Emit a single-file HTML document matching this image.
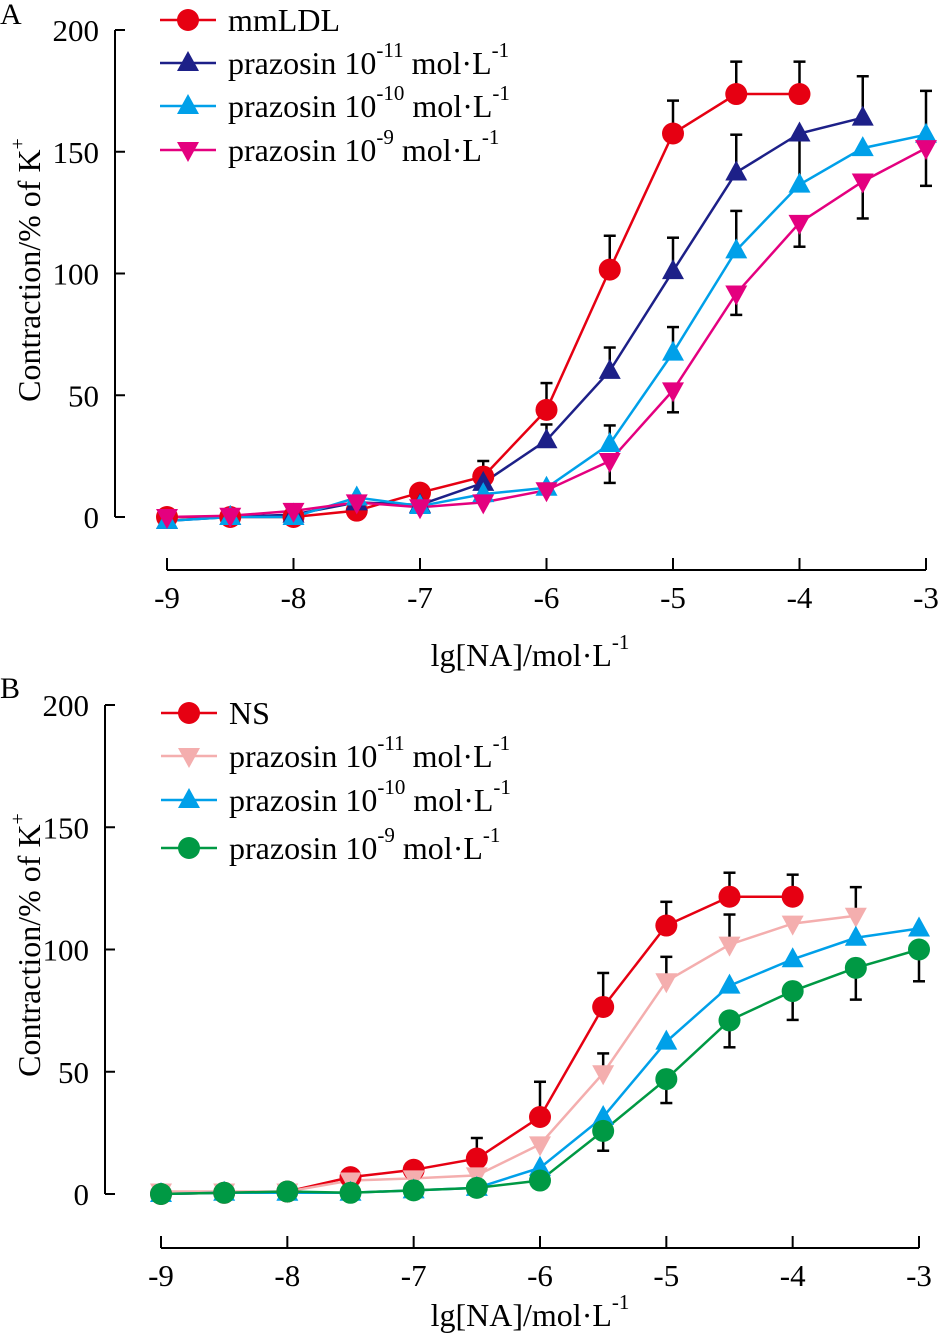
<!DOCTYPE html>
<html><head><meta charset="utf-8">
<style>
body{margin:0;background:#fff;}
svg{display:block;font-family:"Liberation Serif",serif;}
</style></head>
<body>
<svg id="chart" width="938" height="1334" viewBox="0 0 938 1334" xmlns="http://www.w3.org/2000/svg"></svg>
<script>
const xCats = [-9,-8.5,-8,-7.5,-7,-6.5,-6,-5.5,-5,-4.5,-4,-3.5,-3];
const xTicks = [-9,-8,-7,-6,-5,-4,-3];
const yTicks = [0,50,100,150,200];
// Panel A series
const aMmLDL = [0,0,0,2.6,10,16.6,44,101.6,157.5,173.7,173.7,null,null];
const aP11 = [-1.6,0,1,6,5,14,31.5,60,101,141.5,157.5,164,null];
const aP10 = [-1.6,0,0,8,4.5,9.4,12,30,67.5,109.5,136.5,151.5,157];
const aP9 = [0,0.5,2.5,6,4,6,11,23,52,91.8,120.8,137.8,151.5];
// Panel A error bars: [x, value, bound]
const aErrMmLDL = [[-6.5,16.6,23],[-6,44,55],[-5.5,101.6,115.5],[-5,157.5,171],[-4.5,173.7,187],[-4,173.7,187]];
const aErrP11 = [[-6,31.5,38],[-5.5,60,69.6],[-5,101,114.7],[-4.5,141.5,157],[-4,157.5,135],[-3.5,164,181]];
const aErrP10 = [[-5.5,30,37.6],[-5,67.5,78],[-4.5,109.5,125.7],[-3,157,175]];
const aErrP9 = [[-5.5,23,14],[-5,52,43],[-4.5,91.8,83],[-4,120.8,111],[-3.5,137.8,122.6],[-3,151.5,136]];
// Panel B series
const bNS = [0,0.5,1,6.9,9.9,14.5,31.5,76.5,109.8,121.6,121.6,null,null];
const bP11 = [1,1,1,5.5,6.4,7.6,20.3,49.4,87,102,110.6,113.8,null];
const bP10 = [0,0.5,0.5,0.5,1.5,2.5,10.7,31.5,62.3,85.2,96,104.8,108.6];
const bP9 = [0,0.5,1,0.5,1.5,2.5,5.5,25.8,47,71,83,92.5,100];
const bErrNS = [[-6.5,14.5,22.9],[-6,31.5,45.9],[-5.5,76.5,90.4],[-5,109.8,119.5],[-4.5,121.6,131.4],[-4,121.6,130.6]];
const bErrP11 = [[-5.5,49.4,57.5],[-5,87,97],[-4.5,102,114.3],[-3.5,113.8,125.5]];
const bErrP9 = [[-5.5,25.8,17.7],[-5,47,37.2],[-4.5,71,60],[-4,83,71.2],[-3.5,92.5,79.5],[-3,100,87]];

const NS='http://www.w3.org/2000/svg';
const svg=document.getElementById('chart');
function mk(tag,attrs,parent){const e=document.createElementNS(NS,tag);for(const k in attrs)e.setAttribute(k,attrs[k]);(parent||svg).appendChild(e);return e;}

function panel(cfg){
  const g=mk('g',{});
  
  
  const X=v=>cfg.x0+(v-(-9))*(cfg.x1-cfg.x0)/6;
  const Y=v=>cfg.y0-v*(cfg.y0-cfg.y200)/200;
  const ya=mk('line',{x1:cfg.ax,y1:Y(200),x2:cfg.ax,y2:Y(0),stroke:'#000','stroke-width':2},g);
  
  
  yTicks.forEach(t=>{
    mk('line',{x1:cfg.ax,y1:Y(t),x2:cfg.ax+10,y2:Y(t),stroke:'#000','stroke-width':2},g);
    const tx=mk('text',{x:cfg.ax-16,y:Y(t)+11,'text-anchor':'end','font-size':31},g);
    tx.textContent=t;
    
    
  });
  const xa=mk('line',{x1:X(-9),y1:cfg.xa,x2:X(-3),y2:cfg.xa,stroke:'#000','stroke-width':2},g);
  
  
  xTicks.forEach(t=>{
    mk('line',{x1:X(t),y1:cfg.xa,x2:X(t),y2:cfg.xa-12,stroke:'#000','stroke-width':2},g);
    const tx=mk('text',{x:X(t),y:cfg.xa+38,'text-anchor':'middle','font-size':31},g);
    tx.textContent=t;
    
    
  });
  cfg.series.forEach(s=>{
    let d='';let first=true;
    s.data.forEach((v,i)=>{if(v===null)return;d+=(first?'M':'L')+X(xCats[i])+','+Y(v);first=false;});
    const p=mk('path',{d:d,fill:'none',stroke:s.color,'stroke-width':2.5},g);
    
    
  });
  cfg.errs.forEach(eb=>{
    eb.forEach(e=>{
      const x=X(e[0]);
      const l=mk('line',{x1:x,y1:Y(e[1]),x2:x,y2:Y(e[2]),stroke:'#000','stroke-width':2.5},g);
      
      
      mk('line',{x1:x-6,y1:Y(e[2]),x2:x+6,y2:Y(e[2]),stroke:'#000','stroke-width':2.5},g);
    });
  });
  cfg.series.forEach(s=>{
    s.data.forEach((v,i)=>{if(v===null)return;
      const m=marker(g,s.shape,X(xCats[i]),Y(v),s.color);
      
      
    });
  });
  cfg.series.forEach((s,i)=>{
    const ly=cfg.legY[i];
    const lg=mk('g',{},g);
    
    
    mk('line',{x1:cfg.legX-28,y1:ly,x2:cfg.legX+28,y2:ly,stroke:s.color,'stroke-width':2.5},lg);
    marker(lg,s.shape,cfg.legX,ly,s.color);
    const t=mk('text',{x:cfg.legX+40,y:ly+11,'font-size':32},lg);
    if(s.exp===null){t.textContent=s.label;}
    else{
      t.appendChild(document.createTextNode('prazosin 10'));
      const sp=mk('tspan',{dy:-17,'font-size':21},t);sp.textContent=s.exp;
      const sp2=mk('tspan',{dy:17},t);sp2.textContent=' mol·L';
      const sp3=mk('tspan',{dy:-17,'font-size':21},t);sp3.textContent='-1';
    }
  });
  const yt=mk('text',{x:0,y:0,'font-size':32,'text-anchor':'middle',transform:`translate(${cfg.ytX},${cfg.ytY}) rotate(-90)`},g);
  yt.appendChild(document.createTextNode('Contraction/% of K'));
  const ys=mk('tspan',{dy:-16,'font-size':20},yt);ys.textContent='+';
  
  
  const xt=mk('text',{x:cfg.xtX,y:cfg.xtY,'font-size':32,'text-anchor':'middle'},g);
  xt.appendChild(document.createTextNode('lg[NA]/mol·L'));
  const xs=mk('tspan',{dy:-17,'font-size':21},xt);xs.textContent='-1';
  
  
  const pl=mk('text',{x:0,y:cfg.plY,'font-size':30},g);
  pl.textContent=cfg.letter;
  
  
}
function marker(parent,shape,x,y,c){
  const r=11;
  if(shape==='circle')return mk('circle',{cx:x,cy:y,r:r,fill:c},parent);
  if(shape==='up')return mk('polygon',{points:`${x},${y-12} ${x-11},${y+8} ${x+11},${y+8}`,fill:c},parent);
  return mk('polygon',{points:`${x},${y+12} ${x-11},${y-8} ${x+11},${y-8}`,fill:c},parent);
}

panel({name:'panel-a',letter:'A',plY:24,x0:167,x1:926,y0:517,y200:30,ax:115,xa:570,
  legX:188,legY:[20,63,106,150],ytX:40,ytY:270,xtX:530,xtY:666,
  series:[
    {key:'mmldl',label:'mmLDL',exp:null,data:aMmLDL,color:'#e60012',shape:'circle'},
    {key:'prazosin-11',label:'',exp:'-11',data:aP11,color:'#1d2088',shape:'up'},
    {key:'prazosin-10',label:'',exp:'-10',data:aP10,color:'#00a0e9',shape:'up'},
    {key:'prazosin-9',label:'',exp:'-9',data:aP9,color:'#e4007f',shape:'down'}],
  errs:[aErrMmLDL,aErrP11,aErrP10,aErrP9]});
panel({name:'panel-b',letter:'B',plY:698,x0:161,x1:919,y0:1194,y200:705,ax:105,xa:1248,
  legX:189,legY:[713,756,800,848],ytX:40,ytY:945,xtX:530,xtY:1326,
  series:[
    {key:'ns',label:'NS',exp:null,data:bNS,color:'#e60012',shape:'circle'},
    {key:'prazosin-11',label:'',exp:'-11',data:bP11,color:'#f4aeae',shape:'down'},
    {key:'prazosin-10',label:'',exp:'-10',data:bP10,color:'#00a0e9',shape:'up'},
    {key:'prazosin-9',label:'',exp:'-9',data:bP9,color:'#009944',shape:'circle'}],
  errs:[bErrNS,bErrP11,bErrP9]});
</script>
</body></html>
